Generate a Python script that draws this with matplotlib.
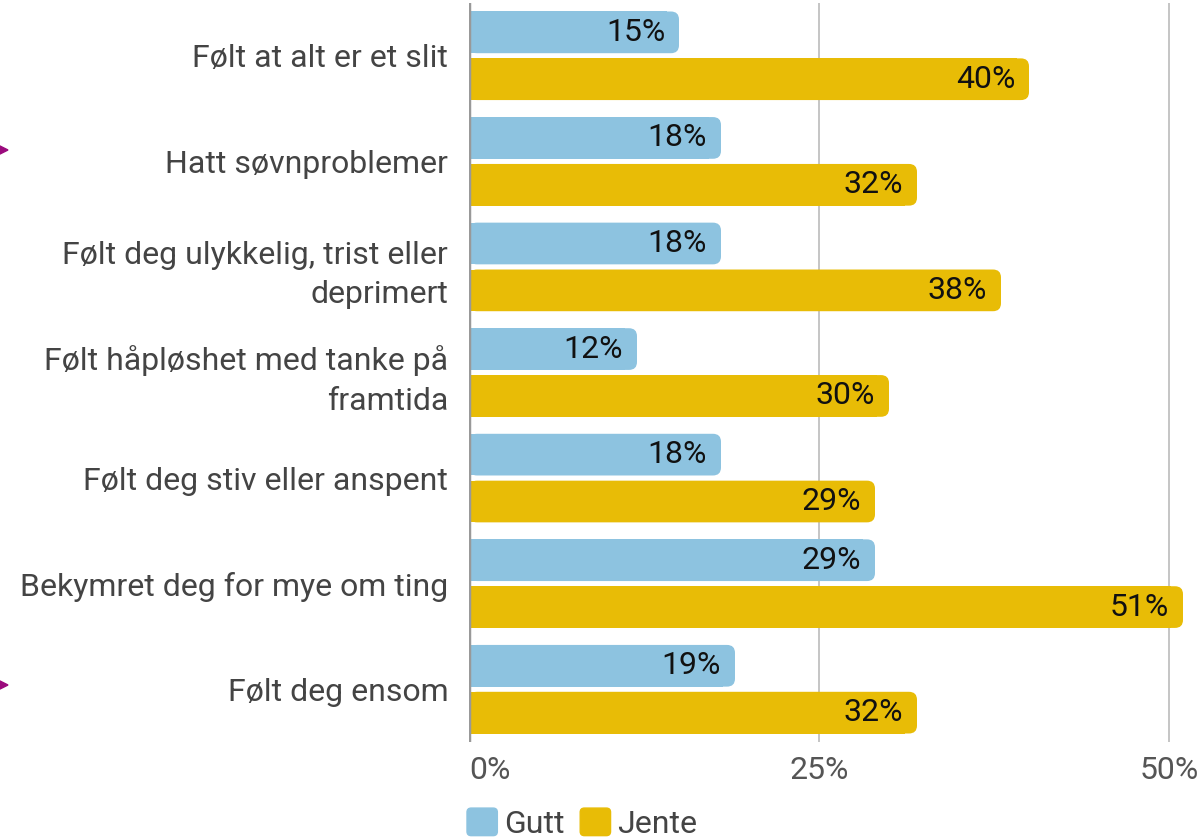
import matplotlib
matplotlib.use("Agg")
import matplotlib.pyplot as plt
from matplotlib.patches import FancyBboxPatch, Polygon
from matplotlib.legend_handler import HandlerPatch

plt.rcParams['font.family'] = ['Roboto', 'DejaVu Sans']

# data
categories = [
    "Følt at alt er et slit",
    "Hatt søvnproblemer",
    "Følt deg ulykkelig, trist eller\ndeprimert",
    "Følt håpløshet med tanke på\nframtida",
    "Følt deg stiv eller anspent",
    "Bekymret deg for mye om ting",
    "Følt deg ensom",
]
gutt = [15, 18, 18, 12, 18, 29, 19]
jente = [40, 32, 38, 30, 29, 51, 32]
series_names = ["Gutt", "Jente"]
xticks = [0, 25, 50]
xtick_labels = ["0%", "25%", "50%"]

colors = ["#8DC3E0", "#E8BC06"]
W, H, DPI = 1201, 838, 100

fig = plt.figure(figsize=(W / DPI, H / DPI), dpi=DPI)
ax_left, ax_bottom = 469 / W, 96 / H
ax_w, ax_h = 728 / W, 739 / H
ax = fig.add_axes([ax_left, ax_bottom, ax_w, ax_h])

xmax = 52
ax.set_xlim(0, xmax)
ax.set_ylim(len(categories) - 0.5, -0.5)

# conversion for rounded corners
px_per_x = 728 / xmax
px_per_y = 739 / len(categories)
r_px = 8
r_x = r_px / px_per_x
aspect = (r_px / px_per_y) / r_x

bar_h = 0.395
offset = 0.222
ypos = range(len(categories))

for vals, off, col in [(gutt, -offset, colors[0]), (jente, offset, colors[1])]:
    ys = [y + off for y in ypos]
    # square left part
    ax.barh(ys, [max(v - r_x * 1.5, 0) for v in vals], height=bar_h, color=col, zorder=2)
    for y, v in zip(ys, vals):
        p = FancyBboxPatch((0, y - bar_h / 2), v, bar_h,
                           boxstyle=f"round,pad=0,rounding_size={r_x}",
                           mutation_aspect=aspect, facecolor=col, edgecolor="none", zorder=2)
        ax.add_patch(p)
        ax.annotate(f"{v}%", xy=(v, y), xytext=(-10, 0), textcoords="offset points",
                    ha="right", va="center", fontsize=23, color="#111111", zorder=3)

ax.set_yticks(list(ypos))
ax.set_yticklabels(categories, fontsize=23, color="#444444", linespacing=1.45)
ax.tick_params(axis="y", length=0, pad=15)

ax.set_xticks(xticks)
ax.set_xticklabels(xtick_labels, fontsize=23, color="#555555")
ax.tick_params(axis="x", length=0, pad=10)
ax.get_xticklabels()[0].set_horizontalalignment("left")

for x in xticks[1:]:
    ax.axvline(x, color="#bbbbbb", lw=1.2, zorder=1)
ax.axvline(0, color="#999999", lw=2.5, zorder=4)

for s in ax.spines.values():
    s.set_visible(False)


def rounded_handle(legend, orig_handle, xdescent, ydescent, width, height, fontsize):
    return FancyBboxPatch((-xdescent, -ydescent), width, height,
                          boxstyle="round,pad=0,rounding_size=3")


handles = [plt.Rectangle((0, 0), 1, 1, color=c) for c in colors]
fig.legend(handles, series_names, loc="lower left", bbox_to_anchor=(467 / W, -0.001),
           ncol=2, frameon=False, fontsize=23, handlelength=0.95, handleheight=0.95,
           handletextpad=0.2, columnspacing=0.5, borderpad=0, borderaxespad=0,
           labelcolor="#444444", handler_map={plt.Rectangle: HandlerPatch(patch_func=rounded_handle)})

# purple markers on left edge
arrow_col = "#9b0a7d"
for yc in [150, 685]:
    tri = Polygon([(-10 / W, (H - yc + 9) / H), (8 / W, (H - yc) / H), (-10 / W, (H - yc - 9) / H)],
                  closed=True, transform=fig.transFigure, color=arrow_col, clip_on=False)
    fig.patches.append(tri)

fig.savefig("out.png", dpi=DPI)
